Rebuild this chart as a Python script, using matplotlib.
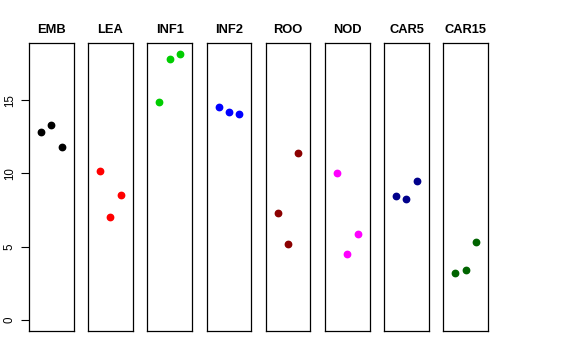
import matplotlib
matplotlib.use("Agg")
import matplotlib.pyplot as plt

plt.rcParams['font.family'] = ['Liberation Sans', 'DejaVu Sans']

tissues = ["EMB", "LEA", "INF1", "INF2", "ROO", "NOD", "CAR5", "CAR15"]
colors = ["#000000", "#FF0000", "#00CD00", "#0000FF", "#8B0000", "#FF00FF", "#00008B", "#006400"]
emb = [12.8, 13.3, 11.8]
lea = [10.2, 7.05, 8.5]
inf1 = [14.9, 17.8, 18.15]
inf2 = [14.5, 14.2, 14.05]
roo = [7.3, 5.2, 11.4]
nod = [10.05, 4.5, 5.85]
car5 = [8.45, 8.25, 9.5]
car15 = [3.2, 3.4, 5.35]
values = [emb, lea, inf1, inf2, roo, nod, car5, car15]
yticks = [0, 5, 10, 15]

W, H = 576, 360
fig = plt.figure(figsize=(W / 100, H / 100), dpi=100)
ymax = max(max(v) for v in values)
yr = ymax - 0
ylim = (0 - 0.04 * yr, ymax + 0.04 * yr)
xlim = (0 - 0.16, 4 + 0.16)

left0 = 29.0
pw = 44.5
step = 59.2
top_px, bot_px = 43.3, 330.7
for i, (name, vals, col) in enumerate(zip(tissues, values, colors)):
    l = left0 + i * step
    ax = fig.add_axes([l / W, 1 - bot_px / H, pw / W, (bot_px - top_px) / H])
    ax.plot([1, 2, 3], vals, 'o', color=col, ms=4.6, mec=col)
    ax.set_xlim(*xlim)
    ax.set_ylim(*ylim)
    ax.set_xticks([])
    for s in ax.spines.values():
        s.set_linewidth(0.9)
        s.set_color('black')
    ax.set_title(name, fontsize=9.3, fontweight='bold', pad=7.5)
    if i == 0:
        ax.set_yticks(yticks)
        ax.set_yticklabels([str(t) for t in yticks], rotation=90, va='center', fontsize=8.3)
        ax.tick_params(axis='y', length=5.5, width=0.8, pad=4)
    else:
        ax.set_yticks([])

fig.savefig("out.png", dpi=100)
